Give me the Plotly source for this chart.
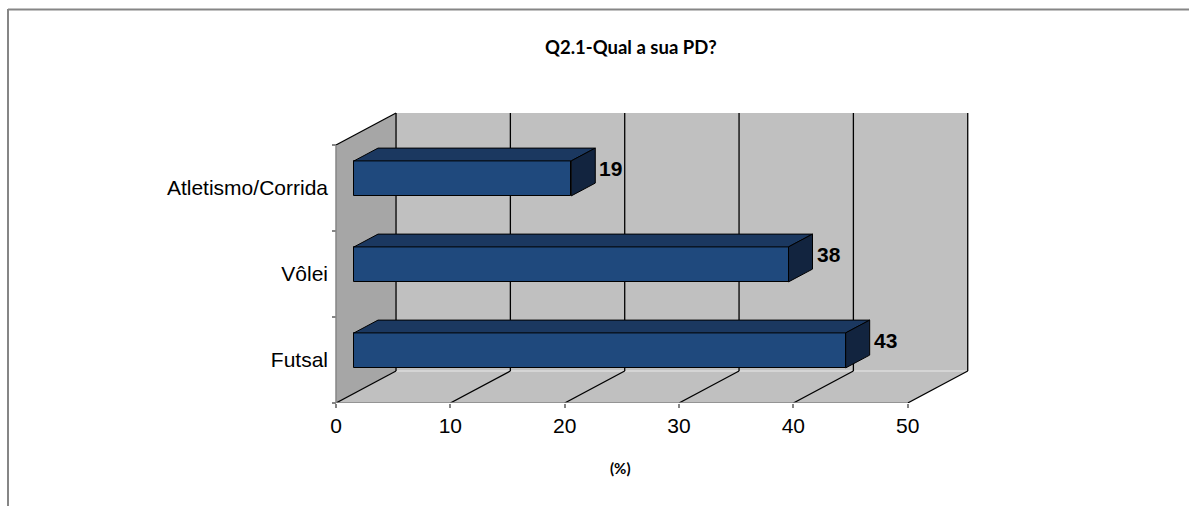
import plotly.graph_objects as go

# Survey data: share of respondents per sport (%)
categories = ["Futsal", "Vôlei", "Atletismo/Corrida"]
values = [43, 38, 19]
x_ticks = [0, 10, 20, 30, 40, 50]
title_text = "Q2.1-Qual a sua PD?"
x_title = "(%)"

W, H = 1189, 506
XMAX = 50
SANS = "Arial, 'Liberation Sans', sans-serif"

# 3D box geometry in data units (x: percent, y: category bands)
DX = 5.25      # depth offset along x
DY = 0.372     # depth offset along y
BAR_H = 0.407  # bar thickness (band units)
BAR_FRONT = 0.3  # bar front face position within the depth
BAR_DEPTH = 0.4  # bar depth as share of the full depth

FRONT_FILL = "#1F497D"
TOP_FILL = "#1B3860"
SIDE_FILL = "#12243F"
WALL = "#C0C0C0"
SIDE_WALL = "#A6A6A6"
AXIS_GRAY = "#868686"

fig = go.Figure()

# walls, floor and grid
y_bot, y_top = -0.5, len(categories) - 0.5
shapes = [
    dict(type="rect", x0=DX, x1=XMAX + DX, y0=y_bot + DY, y1=y_top + DY,
         fillcolor=WALL, line=dict(width=0), layer="below"),
    dict(type="path",
         path=f"M 0 {y_bot} L {DX} {y_bot + DY} L {DX} {y_top + DY} L 0 {y_top} Z",
         fillcolor=SIDE_WALL, line=dict(width=0), layer="below"),
    dict(type="path",
         path=f"M 0 {y_bot} L {XMAX} {y_bot} L {XMAX + DX} {y_bot + DY} L {DX} {y_bot + DY} Z",
         fillcolor=WALL, line=dict(width=0), layer="below"),
    dict(type="line", x0=DX, x1=XMAX + DX, y0=y_bot + DY, y1=y_bot + DY,
         line=dict(color="#DCDCDC", width=1.5), layer="below"),
]
for v in x_ticks:
    shapes.append(dict(type="line", x0=v + DX, x1=v + DX, y0=y_bot + DY, y1=y_top + DY,
                       line=dict(color="black", width=1.3), layer="below"))
    shapes.append(dict(type="line", x0=v, x1=v + DX, y0=y_bot, y1=y_bot + DY,
                       line=dict(color="black", width=1.3), layer="below"))
shapes += [
    dict(type="line", x0=0, x1=DX, y0=y_top, y1=y_top + DY,
         line=dict(color="black", width=1.3), layer="below"),
    dict(type="line", x0=0, x1=XMAX, y0=y_bot, y1=y_bot,
         line=dict(color=AXIS_GRAY, width=1.5), layer="below"),
    dict(type="line", x0=0, x1=0, y0=y_bot, y1=y_top,
         line=dict(color=AXIS_GRAY, width=1.5), layer="below"),
]
# outer frame
shapes += [
    dict(type="line", xref="paper", yref="paper", x0=8 / W, x1=1.0,
         y0=1 - 9.5 / H, y1=1 - 9.5 / H, line=dict(color=AXIS_GRAY, width=2)),
    dict(type="line", xref="paper", yref="paper", x0=8 / W, x1=8 / W,
         y0=1 - 9 / H, y1=0, line=dict(color=AXIS_GRAY, width=2)),
]

base = BAR_FRONT * DX
yc = [i + BAR_FRONT * DY for i in range(len(categories))]
bdx, bdy = BAR_DEPTH * DX, BAR_DEPTH * DY

# front faces
fig.add_trace(go.Bar(
    orientation="h", y=yc, x=values, base=base, width=BAR_H,
    marker=dict(color=FRONT_FILL, line=dict(color="black", width=1)),
    hoverinfo="skip", showlegend=False,
))

# top and side faces
for y, v in zip(yc, values):
    lo, hi = y - BAR_H / 2, y + BAR_H / 2
    x_end = base + v
    fig.add_trace(go.Scatter(
        x=[base, x_end, x_end + bdx, base + bdx, base],
        y=[hi, hi, hi + bdy, hi + bdy, hi],
        mode="lines", fill="toself", fillcolor=TOP_FILL,
        line=dict(color="black", width=1), hoverinfo="skip", showlegend=False,
    ))
    fig.add_trace(go.Scatter(
        x=[x_end, x_end + bdx, x_end + bdx, x_end, x_end],
        y=[lo, lo + bdy, hi + bdy, hi, lo],
        mode="lines", fill="toself", fillcolor=SIDE_FILL,
        line=dict(color="black", width=1), hoverinfo="skip", showlegend=False,
    ))

# value labels next to each bar's end
annotations = [
    dict(text=f"<b>{v}</b>", x=base + v + bdx, y=y + BAR_FRONT * DY,
         xref="x", yref="y", xanchor="left", yanchor="middle", xshift=2,
         showarrow=False, font=dict(family=SANS, size=21, color="black"))
    for y, v in zip(yc, values)
]

PX_PER_UNIT = 11.434
X0_PX = 336
plot_l, plot_r = 326, 980
plot_t, plot_b = 100, 403

annotations += [
    dict(text=f"<b>{title_text}</b>", xref="paper", yref="paper",
         x=631 / W, y=1 - 47 / H, xanchor="center", yanchor="middle",
         showarrow=False, font=dict(family="Lato", size=18.5, color="black")),
    dict(text=f"<b>{x_title}</b>", xref="paper", yref="paper",
         x=621 / W, y=1 - 468 / H, xanchor="center", yanchor="middle",
         showarrow=False, font=dict(family="Lato", size=15, color="black")),
]

fig.update_layout(
    width=W, height=H,
    margin=dict(l=0, r=0, t=0, b=0),
    paper_bgcolor="white", plot_bgcolor="rgba(0,0,0,0)",
    shapes=shapes,
    xaxis=dict(
        domain=[plot_l / W, plot_r / W],
        range=[(plot_l - X0_PX) / PX_PER_UNIT, (plot_r - X0_PX) / PX_PER_UNIT],
        tickvals=x_ticks, ticktext=[str(t) for t in x_ticks],
        ticks="outside", ticklen=4, tickcolor=AXIS_GRAY, tickwidth=1.5,
        showgrid=False, zeroline=False, showline=False,
        tickfont=dict(family=SANS, size=21, color="black"),
        automargin=False, fixedrange=True,
    ),
    yaxis=dict(
        domain=[1 - plot_b / H, 1 - plot_t / H],
        range=[-0.5, -0.5 + (plot_b - plot_t) / 86],
        anchor="free", position=X0_PX / W,
        tickvals=list(range(len(categories))), ticktext=categories,
        ticks="", ticklabelstandoff=8,
        minor=dict(tickvals=[-0.5, 0.5, 1.5, 2.5], ticks="outside", ticklen=4,
                   tickcolor=AXIS_GRAY, tickwidth=1.5, showgrid=False),
        showgrid=False, zeroline=False, showline=False,
        tickfont=dict(family=SANS, size=21, color="black"),
        automargin=False, fixedrange=True,
    ),
    annotations=annotations,
    bargap=0,
)

fig.write_html("out.html")
